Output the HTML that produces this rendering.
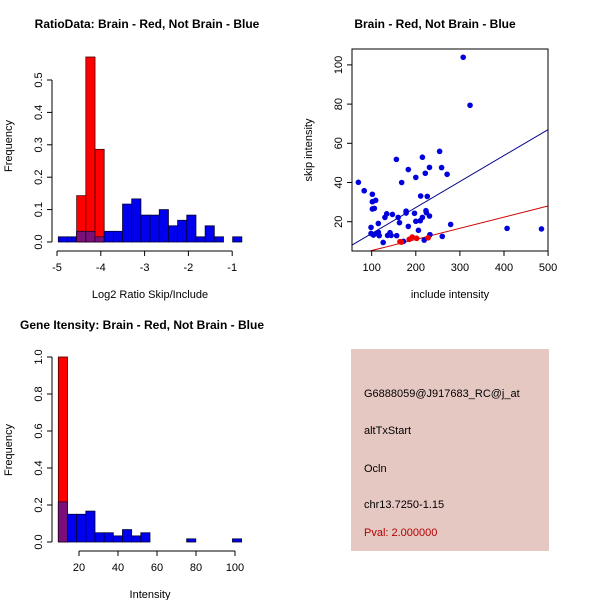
<!DOCTYPE html>
<html><head><meta charset="utf-8"><style>
body{margin:0;background:#fff}
svg{display:block;font-family:"Liberation Sans",sans-serif}
</style></head><body>
<svg id="s" width="600" height="600" xmlns="http://www.w3.org/2000/svg">
<rect width="600" height="600" fill="#fff"/>
<text x="147" y="28" font-size="12" font-weight="bold" text-anchor="middle">RatioData: Brain - Red, Not Brain - Blue</text>
<text x="435" y="28" font-size="12" font-weight="bold" text-anchor="middle">Brain - Red, Not Brain - Blue</text>
<text x="142" y="329" font-size="12" font-weight="bold" text-anchor="middle">Gene Itensity: Brain - Red, Not Brain - Blue</text>
<g id="g1"></g>
<g id="g2"></g>
<g id="g3"></g>
<g>
<rect x="351" y="349" width="198" height="202" fill="#e6c8c2"/>
<text x="364" y="397" font-size="11">G6888059@J917683_RC@j_at</text>
<text x="364" y="434" font-size="11">altTxStart</text>
<text x="364" y="472" font-size="11">Ocln</text>
<text x="364" y="508" font-size="11">chr13.7250-1.15</text>
<text x="364" y="536" font-size="11" fill="#b00000">Pval: 2.000000</text>
</g>
</svg>
<script>
// Ratio histogram data
const ratioBinStart = -4.97, ratioBinWidth = 0.2095;
const ratioBlue = [0.016,0.016,0.033,0.033,0.016,0.033,0.033,0.117,0.133,0.083,0.083,0.1,0.05,0.067,0.083,0.016,0.05,0.016,0,0.016];
const ratioRed = [0,0,0.143,0.571,0.286,0,0,0,0,0,0,0,0,0,0,0,0,0,0,0];
const ratioXTicks = [-5,-4,-3,-2,-1];
const ratioYTicks = [0,0.1,0.2,0.3,0.4,0.5];
// Intensity histogram data
const intBinStart = 9.4, intBinWidth = 4.7;
const intBlue = [0.217,0.15,0.15,0.167,0.05,0.05,0.033,0.067,0.033,0.05,0,0,0,0,0.017,0,0,0,0,0.017];
const intRed = [1.0,0,0,0,0,0,0,0,0,0,0,0,0,0,0,0,0,0,0,0];
const intXTicks = [20,40,60,80,100];
const intYTicks = [0,0.2,0.4,0.6,0.8,1.0];
// Scatter data
const blueX = [69.8,83,101.5,101.5,109,101.5,106,98.5,98.5,104,111,115,115,117,126,130,134,136,141.5,144,147,156.6,156,160,163,168,172,178,178,183,183,197,200,200,206,211,210,215,215,219,221.5,223,226,224,231,231,232,254,258.5,260,271,279,307.5,323,407,485];
const blueY = [40.1,35.8,34,30.2,30.9,26.5,26.8,17.1,14,13.2,14,14.6,19.1,12.9,9.4,22.2,24,13,14.4,13,23.7,12.9,51.8,22.2,19.5,40,10,25.4,24.4,46.6,17.6,24.3,42.6,20.2,15.6,33.1,20.5,52.9,22.2,10.6,44.7,25.6,32.9,24.6,22.9,47.7,13.4,55.9,47.6,12.5,44.2,18.6,103.9,79.4,16.6,16.3];
const redX = [164,167,185,192,202,228];
const redY = [9.8,9.6,11,12.2,11.5,11.8];
const blueLine = [0.71,0.1326];
const redLine = [-0.4,0.0568];
const scXTicks = [100,200,300,400,500];
const scYTicks = [20,40,60,80,100];

const NS="http://www.w3.org/2000/svg";
function mk(p,tag,at){const e=document.createElementNS(NS,tag);for(const k in at)e.setAttribute(k,at[k]);p.appendChild(e);return e;}
function txt(p,x,y,s,rot,anchor){const e=mk(p,'text',{x:x,y:y,'font-size':11,'text-anchor':anchor||'middle'});if(rot)e.setAttribute('transform','rotate(-90 '+x+' '+y+')');e.textContent=s;return e;}

function hist(g,o){
  const sx=v=>o.x0+(v-o.xv0)*o.kx, sy=v=>o.y0-v*o.ky;
  for(let i=0;i<o.blue.length;i++){
    const a=o.start+i*o.w,b=a+o.w,x=sx(a),wd=sx(b)-x;
    const bv=o.blue[i],rv=o.red[i];
    if(bv>0){const r=mk(g,'rect',{x:x,y:sy(bv),width:wd,height:sy(0)-sy(bv),fill:'#0000ee',stroke:'#000033','stroke-width':0.8});
      }
    if(rv>0){const r=mk(g,'rect',{x:x,y:sy(rv),width:wd,height:sy(0)-sy(rv),fill:'#ff0000',stroke:'#440000','stroke-width':0.8});
      }
    const m=Math.min(bv,rv);
    if(m>0){const r=mk(g,'rect',{x:x,y:sy(m),width:wd,height:sy(0)-sy(m),fill:'#7a0f7a',stroke:'#220022','stroke-width':0.8});
      }
  }
  const ya=o.yt;
  mk(g,'line',{x1:o.yx,x2:o.yx,y1:sy(ya[0]),y2:sy(ya[ya.length-1]),stroke:'#000'});
  ya.forEach(v=>{mk(g,'line',{x1:o.yx-5,x2:o.yx,y1:sy(v),y2:sy(v),stroke:'#000'});
    const t=txt(g,o.yx-10,sy(v),v.toFixed(1),true);});
  const xa=o.xt;
  mk(g,'line',{x1:sx(xa[0]),x2:sx(xa[xa.length-1]),y1:o.xy,y2:o.xy,stroke:'#000'});
  xa.forEach(v=>{mk(g,'line',{x1:sx(v),x2:sx(v),y1:o.xy,y2:o.xy+5,stroke:'#000'});
    const t=txt(g,sx(v),o.xy+20,String(v));});
  const yl=txt(g,12,o.ylabY,'Frequency',true);
  const xl=txt(g,o.xlabX,o.xlabY,o.xlab);
}
hist(document.getElementById('g1'),{x0:57,xv0:-5,kx:43.8,y0:242,ky:324,blue:ratioBlue,red:ratioRed,start:ratioBinStart,w:ratioBinWidth,yt:ratioYTicks,xt:ratioXTicks,yx:52,xy:251,ylabY:146,xlabX:150,xlabY:298,xlab:'Log2 Ratio Skip/Include'});
hist(document.getElementById('g3'),{x0:79,xv0:20,kx:1.95,y0:542,ky:185,blue:intBlue,red:intRed,start:intBinStart,w:intBinWidth,yt:intYTicks,xt:intXTicks,yx:52,xy:551,ylabY:450,xlabX:150,xlabY:598,xlab:'Intensity'});

(function(){
  const g=document.getElementById('g2');
  const L=352,R=548,T=49,B=251;
  const sx=v=>371.7+(v-100)*0.441, sy=v=>221.7-(v-20)*1.96;
  const cp=mk(g,'clipPath',{id:'cp'});mk(cp,'rect',{x:L,y:T,width:R-L,height:B-T});
  const xmin=(L-371.7)/0.441+100,xmax=(R-371.7)/0.441+100;
  [[blueLine,'#00008b','blue-fit-line'],[redLine,'#cc0000','red-fit-line']].forEach(([c,col,n])=>{
    const l=mk(g,'line',{x1:sx(xmin),y1:sy(c[0]+c[1]*xmin),x2:sx(xmax),y2:sy(c[0]+c[1]*xmax),stroke:col,'stroke-width':1,'clip-path':'url(#cp)'});
    });
  blueX.forEach((x,i)=>{const c=mk(g,'circle',{cx:sx(x),cy:sy(blueY[i]),r:2.8,fill:'#0000dd'});
    });
  redX.forEach((x,i)=>{const c=mk(g,'circle',{cx:sx(x),cy:sy(redY[i]),r:2.8,fill:'#ee0000'});
    });
  mk(g,'rect',{x:L,y:T,width:R-L,height:B-T,fill:'none',stroke:'#000'});
  scXTicks.forEach(v=>{mk(g,'line',{x1:sx(v),x2:sx(v),y1:B,y2:B+5,stroke:'#000'});
    const t=txt(g,sx(v),B+20,String(v));});
  scYTicks.forEach(v=>{mk(g,'line',{x1:L-5,x2:L,y1:sy(v),y2:sy(v),stroke:'#000'});
    const t=txt(g,L-10,sy(v),String(v),true);});
  const yl=txt(g,312,150,'skip intensity',true);
  const xl=txt(g,450,298,'include intensity');
})();
</script>
</body></html>
